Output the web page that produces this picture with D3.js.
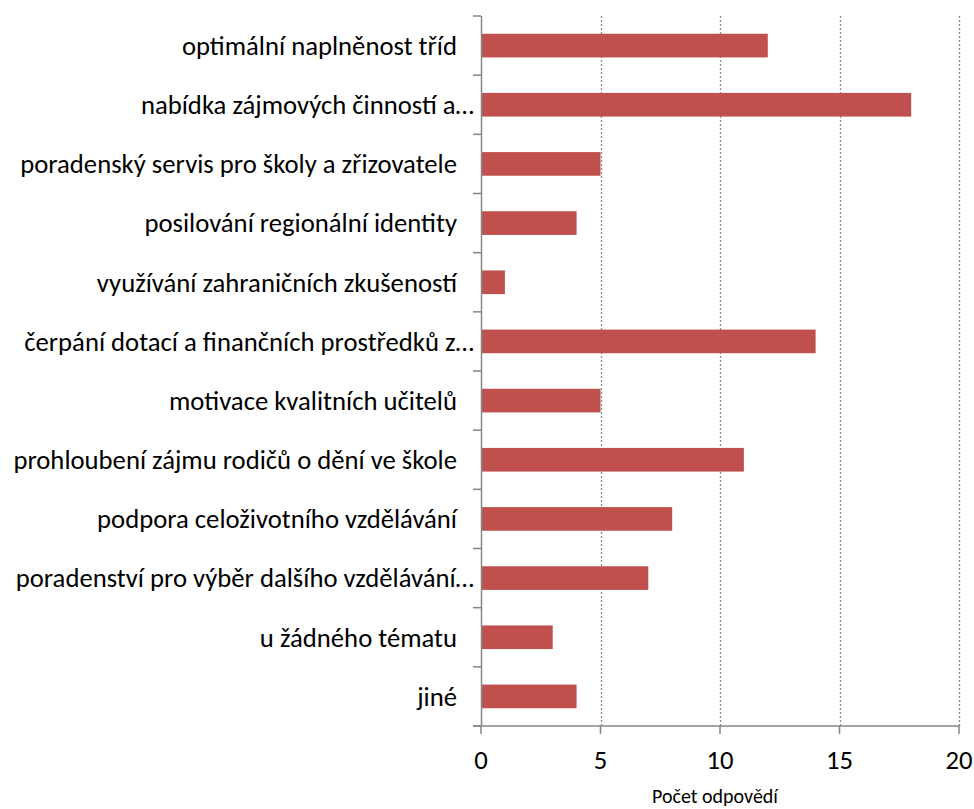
<!DOCTYPE html>
<html>
<head>
<meta charset="utf-8">
<script src="https://d3js.org/d3.v7.min.js"></script>
<style>
  body { margin: 0; background: #fff; }
  text { font-family: Carlito, "Open Sans", "Liberation Sans", sans-serif; fill: #000; }
</style>
</head>
<body>
<div id="chart"></div>
<script>
  var categories = [
    "optimální naplněnost tříd",
    "nabídka zájmových činností a…",
    "poradenský servis pro školy a zřizovatele",
    "posilování regionální identity",
    "využívání zahraničních zkušeností",
    "čerpání dotací a finančních prostředků z…",
    "motivace kvalitních učitelů",
    "prohloubení zájmu rodičů o dění ve škole",
    "podpora celoživotního vzdělávání",
    "poradenství pro výběr dalšího vzdělávání…",
    "u žádného tématu",
    "jiné"
  ];
  var values = [12, 18, 5, 4, 1, 14, 5, 11, 8, 7, 3, 4];
  var xTicks = [0, 5, 10, 15, 20];
  var xTitle = "Počet odpovědí";

  var width = 974, height = 809;
  var mLeft = 481, mRight = 959, mTop = 16, mBottom = 726;

  var svg = d3.select("#chart").append("svg")
      .attr("width", width)
      .attr("height", height);

  var x = d3.scaleLinear().domain([0, 20]).range([mLeft, mRight]);
  var y = d3.scaleBand().domain(categories).range([mTop, mBottom])
      .paddingInner(0.6).paddingOuter(0.3);
  var step = y.step();

  // gridlines
  svg.selectAll(".grid")
    .data(xTicks.slice(1))
    .enter().append("line")
    .attr("x1", function(d) { return Math.round(x(d)) + 0.5; })
    .attr("x2", function(d) { return Math.round(x(d)) + 0.5; })
    .attr("y1", mTop)
    .attr("y2", mBottom)
    .attr("stroke", "#8c8c8c")
    .attr("stroke-width", 1.3)
    .attr("stroke-dasharray", "2,2");

  // bars
  svg.selectAll(".bar")
    .data(values)
    .enter().append("rect")
    .attr("x", mLeft)
    .attr("y", function(d, i) { return y(categories[i]); })
    .attr("width", function(d) { return x(d) - mLeft; })
    .attr("height", y.bandwidth())
    .attr("fill", "#c0504d");

  // y axis line and ticks
  svg.append("line")
    .attr("x1", mLeft + 0.5).attr("x2", mLeft + 0.5)
    .attr("y1", mTop).attr("y2", mBottom)
    .attr("stroke", "#868686").attr("stroke-width", 1.5);

  svg.selectAll(".ytick")
    .data(d3.range(categories.length + 1))
    .enter().append("line")
    .attr("x1", mLeft - 8).attr("x2", mLeft)
    .attr("y1", function(d) { return mTop + d * step; })
    .attr("y2", function(d) { return mTop + d * step; })
    .attr("stroke", "#868686").attr("stroke-width", 1.5);

  // x axis
  svg.append("line")
    .attr("x1", mLeft - 8).attr("x2", mRight)
    .attr("y1", mBottom).attr("y2", mBottom)
    .attr("stroke", "#868686").attr("stroke-width", 1.5);

  svg.selectAll(".xtick")
    .data(xTicks)
    .enter().append("line")
    .attr("x1", function(d) { return x(d); })
    .attr("x2", function(d) { return x(d); })
    .attr("y1", mBottom).attr("y2", mBottom + 8)
    .attr("stroke", "#868686").attr("stroke-width", 1.5);

  svg.selectAll(".xlabel")
    .data(xTicks)
    .enter().append("text")
    .attr("x", function(d) { return x(d); })
    .attr("y", 769)
    .attr("text-anchor", "middle")
    .style("font-size", "26.7px")
    .text(function(d) { return d; });

  // category labels (truncated ones sit closer to the axis)
  svg.selectAll(".ylabel")
    .data(categories)
    .enter().append("text")
    .attr("x", function(d) { return d.slice(-1) === "…" ? 474 : 457; })
    .attr("y", function(d) { return y(d) + y.bandwidth() / 2; })
    .attr("dy", "0.35em")
    .attr("text-anchor", "end")
    .style("font-size", "26.7px")
    .text(function(d) { return d; });

  svg.append("text")
    .attr("x", 715)
    .attr("y", 803)
    .attr("text-anchor", "middle")
    .style("font-size", "20px")
    .text(xTitle);
</script>
</body>
</html>
